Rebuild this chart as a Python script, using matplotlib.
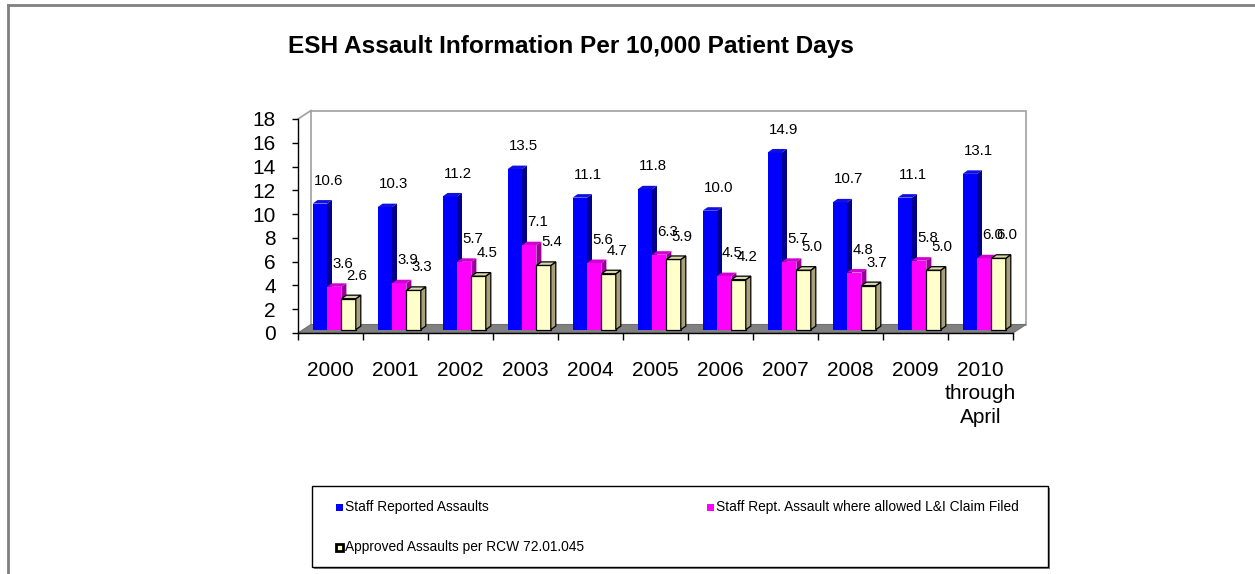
import matplotlib
matplotlib.use("Agg")
import matplotlib.pyplot as plt
from matplotlib.patches import Polygon, Rectangle
from matplotlib.lines import Line2D

plt.rcParams['font.family'] = ['Liberation Sans', 'DejaVu Sans']

# ---------------- data ----------------
categories = ["2000", "2001", "2002", "2003", "2004", "2005", "2006", "2007",
              "2008", "2009", "2010\nthrough\nApril"]
staff_reported = [10.6, 10.3, 11.2, 13.5, 11.1, 11.8, 10.0, 14.9, 10.7, 11.1, 13.1]
claim_filed = [3.6, 3.9, 5.7, 7.1, 5.6, 6.3, 4.5, 5.7, 4.8, 5.8, 6.0]
approved_rcw = [2.6, 3.3, 4.5, 5.4, 4.7, 5.9, 4.2, 5.0, 3.7, 5.0, 6.0]
series_names = ["Staff Reported Assaults",
                "Staff Rept. Assault where allowed L&I Claim Filed",
                "Approved Assaults per RCW 72.01.045"]
yticks = list(range(0, 19, 2))
title = "ESH Assault Information Per 10,000 Patient Days"

# ---------------- styling ----------------
W, H = 1255, 574
DPI = 100
fig = plt.figure(figsize=(W / DPI, H / DPI), dpi=DPI)
fig.patch.set_facecolor("white")

# axes placement in pixels
x0_px, y0_px = 298, 333          # origin
cat_px = 65.0                   # pixels per category
ytop_px = 119                   # y=18
ncat = len(categories)
ax = fig.add_axes([x0_px / W, (H - y0_px) / H, ncat * cat_px / W, (y0_px - ytop_px) / H])
ax.set_xlim(0, ncat)
ax.set_ylim(0, 18)
ax.patch.set_alpha(0)

px_x = 1.0 / cat_px
px_y = 18.0 / (y0_px - ytop_px)

WX, WY = 13 * px_x, 8.5 * px_y      # wall/floor depth
BX, BY = 5 * px_x, 3.5 * px_y       # bar depth
base = 3.4 * px_y                   # bar base raised to mid-floor

wall_col = "#a0a0a0"
# back wall
ax.add_patch(Polygon([(WX, WY), (ncat + WX, WY), (ncat + WX, 18 + WY), (WX, 18 + WY)],
                     closed=True, facecolor="white", edgecolor=wall_col, lw=1.2,
                     clip_on=False, zorder=0.5))
# left wall diagonal at top
ax.add_line(Line2D([0, WX], [18, 18 + WY], color=wall_col, lw=1.2, clip_on=False, zorder=0.6))
# floor
ax.add_patch(Polygon([(0, 0), (ncat, 0), (ncat + WX, WY), (WX, WY)], closed=True,
                     facecolor="#808080", edgecolor="#707070", lw=0.8, clip_on=False, zorder=0.7))

bar_w = 14.4 * px_x
start = 14.6 * px_x
styles = [
    dict(front="#0000FF", side="#000090", top="#1010E0", edge="none", lw=0),
    dict(front="#FF00FF", side="#990099", top="#D000D0", edge="none", lw=0),
    dict(front="#FFFFCC", side="#A8A07A", top="#D8D8A8", edge="black", lw=0.9),
]
all_series = [staff_reported, claim_filed, approved_rcw]

for s, (vals, st) in enumerate(zip(all_series, styles)):
    z = 2 + s
    lefts = [i + start + s * bar_w for i in range(ncat)]
    ax.bar(lefts, vals, width=bar_w, bottom=base, align="edge", color=st["front"],
           edgecolor=st["edge"], linewidth=st["lw"], zorder=z)
    for xl, v in zip(lefts, vals):
        top = base + v
        xr = xl + bar_w
        # side face
        ax.add_patch(Polygon([(xr, base), (xr + BX, base + BY), (xr + BX, top + BY), (xr, top)],
                             closed=True, facecolor=st["side"], edgecolor=st["edge"],
                             lw=st["lw"], zorder=z))
        # top face
        ax.add_patch(Polygon([(xl, top), (xr, top), (xr + BX, top + BY), (xl + BX, top + BY)],
                             closed=True, facecolor=st["top"], edgecolor=st["edge"],
                             lw=st["lw"], zorder=z))
        ax.annotate(f"{v:.1f}", xy=(xl + bar_w / 2, top), xytext=(6.0, 16.5),
                    textcoords="offset points", ha="center", va="center",
                    fontsize=10.8, color="black", zorder=10)

# spines / ticks
for sp in ["top", "right"]:
    ax.spines[sp].set_visible(False)
ax.spines["left"].set_color("black")
ax.spines["bottom"].set_color("black")
ax.spines["left"].set_linewidth(1.0)
ax.spines["bottom"].set_linewidth(1.0)
ax.spines["left"].set_zorder(1)
ax.spines["bottom"].set_zorder(1)

ax.set_yticks(yticks)
ax.set_yticklabels([str(t) for t in yticks], fontsize=15)
ax.tick_params(axis="y", direction="out", length=4, width=1, pad=12)

ax.set_xticks([i + 0.5 for i in range(ncat)])
ax.set_xticklabels(categories, fontsize=15, linespacing=1.3)
ax.tick_params(axis="x", which="major", length=0, pad=20)
ax.set_xticks(list(range(ncat + 1)), minor=True)
ax.tick_params(axis="x", which="minor", direction="out", length=5, width=1)

# ---------------- overlay in pixel coords ----------------
ov = fig.add_axes([0, 0, 1, 1], zorder=-1)
ov.set_xlim(0, W)
ov.set_ylim(H, 0)
ov.axis("off")

# chart border (left and top visible)
ov.add_line(Line2D([8, 8], [5, H], color="#808080", lw=2))
ov.add_line(Line2D([8, W], [5, 5], color="#808080", lw=2))

fig.text(571 / W, 1 - 47 / H, title, ha="center", va="center",
         fontsize=17.6, fontweight="bold")

# legend box
ov2 = fig.add_axes([0, 0, 1, 1], zorder=5)
ov2.set_xlim(0, W)
ov2.set_ylim(H, 0)
ov2.axis("off")
lx0, ly0, lx1, ly1 = 312, 486, 1048, 567
ov2.add_patch(Rectangle((lx0 + 2, ly0 + 2), lx1 - lx0, ly1 - ly0, facecolor="#808080",
                        edgecolor="none", zorder=1))
ov2.add_patch(Rectangle((lx0, ly0), lx1 - lx0, ly1 - ly0, facecolor="white",
                        edgecolor="black", lw=1, zorder=2))
entries = [(339, 507, styles[0]), (710, 507, styles[1]), (339, 547, styles[2])]
for (mx, my, st), name in zip(entries, series_names):
    if st["edge"] == "none":
        ov2.add_patch(Rectangle((mx - 3.5, my - 3.5), 7, 7, facecolor=st["front"],
                                edgecolor="none", zorder=3))
    else:
        ov2.add_patch(Rectangle((mx - 3.5, my - 3.5), 7, 7, facecolor=st["front"],
                                edgecolor="black", lw=2, zorder=3))
    ov2.text(mx + 6, my, name, ha="left", va="center", fontsize=9.9, zorder=4)

fig.savefig("out.png", dpi=DPI)
